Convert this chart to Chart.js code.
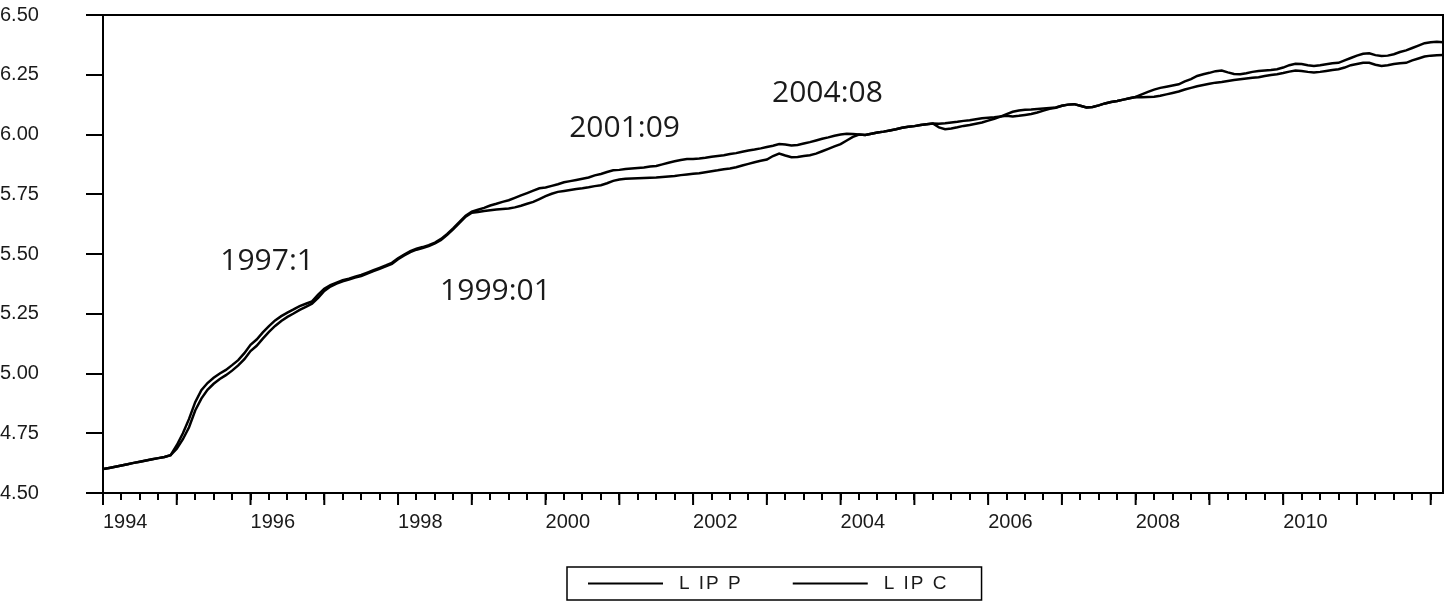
<!DOCTYPE html>
<html>
<head>
<meta charset="utf-8">
<script src="https://cdn.jsdelivr.net/npm/chart.js@4.4.1/dist/chart.umd.min.js"></script>
<style>
  html, body { margin: 0; padding: 0; background: #fff; }
  #wrap { width: 1446px; height: 604px; }
</style>
</head>
<body>
<div id="wrap"><canvas id="grafico" width="1446" height="604"></canvas></div>
<script>
// monthly series, 1994:01 .. 2012:03
const startYear = 1994;
const yearLabels = [1994, 1996, 1998, 2000, 2002, 2004, 2006, 2008, 2010];
const seriesNames = ['L IP P', 'L IP C'];

const lipP = [
  4.600, 4.605, 4.610, 4.615, 4.620, 4.626, 4.631, 4.636, 4.641, 4.646, 4.651, 4.658,
  4.700, 4.750, 4.810, 4.880, 4.930, 4.960, 4.982, 5.000, 5.015, 5.035, 5.056, 5.085,
  5.120, 5.142, 5.172, 5.198, 5.222, 5.240, 5.255, 5.268, 5.282, 5.292, 5.302, 5.330,
  5.355, 5.370, 5.380, 5.390, 5.397, 5.405, 5.412, 5.422, 5.432, 5.442, 5.452, 5.463,
  5.482, 5.498, 5.512, 5.522, 5.529, 5.537, 5.548, 5.563, 5.584, 5.608, 5.634, 5.660,
  5.677, 5.685, 5.693, 5.703, 5.710, 5.718, 5.725, 5.735, 5.745, 5.755, 5.765, 5.775,
  5.778, 5.785, 5.792, 5.800, 5.805, 5.810, 5.815, 5.820, 5.829, 5.835, 5.843, 5.850,
  5.852, 5.856, 5.858, 5.860, 5.862, 5.866, 5.868, 5.875, 5.882, 5.888, 5.893, 5.897,
  5.898, 5.900, 5.903, 5.907, 5.910, 5.913, 5.918, 5.922, 5.928, 5.933, 5.937, 5.942,
  5.948, 5.953, 5.960, 5.958, 5.954, 5.956, 5.962, 5.968, 5.975, 5.982, 5.988, 5.995,
  6.000, 6.003, 6.002, 6.000, 5.998, 6.003, 6.008, 6.012, 6.017, 6.022, 6.028, 6.032,
  6.035, 6.040, 6.043, 6.046, 6.045, 6.047, 6.050, 6.053, 6.057, 6.060, 6.064, 6.068,
  6.070, 6.072, 6.075, 6.078, 6.075, 6.078, 6.082, 6.086, 6.092, 6.100, 6.108, 6.112,
  6.120, 6.125, 6.127, 6.120, 6.113, 6.115, 6.122, 6.130, 6.136, 6.140, 6.146, 6.152,
  6.157, 6.168, 6.178, 6.188, 6.195, 6.200, 6.205, 6.210, 6.222, 6.232, 6.245, 6.252,
  6.258, 6.265, 6.268, 6.260, 6.253, 6.252, 6.256, 6.262, 6.266, 6.268, 6.270, 6.273,
  6.280, 6.290, 6.296, 6.295, 6.290, 6.287, 6.290, 6.294, 6.298, 6.300, 6.310, 6.320,
  6.330, 6.338, 6.340, 6.332, 6.328, 6.330, 6.336, 6.345, 6.352, 6.362, 6.372, 6.382,
  6.386, 6.388, 6.386
];

const lipC = [
  4.600, 4.605, 4.610, 4.615, 4.620, 4.626, 4.631, 4.636, 4.641, 4.646, 4.651, 4.658,
  4.685, 4.725, 4.775, 4.845, 4.895, 4.932, 4.957, 4.977, 4.993, 5.012, 5.034, 5.060,
  5.094, 5.116, 5.146, 5.174, 5.199, 5.220, 5.237, 5.251, 5.266, 5.279, 5.292, 5.316,
  5.345, 5.364, 5.376, 5.386, 5.393, 5.401, 5.408, 5.418, 5.428, 5.438, 5.448, 5.459,
  5.478, 5.494, 5.508, 5.518, 5.525, 5.533, 5.544, 5.559, 5.580, 5.604, 5.630, 5.656,
  5.673, 5.676, 5.680, 5.683, 5.686, 5.688, 5.690, 5.695, 5.702, 5.710, 5.718, 5.730,
  5.742, 5.752, 5.760, 5.764, 5.768, 5.772, 5.775, 5.779, 5.784, 5.788, 5.796, 5.806,
  5.812, 5.815, 5.816, 5.817, 5.818, 5.819, 5.820, 5.822, 5.824, 5.826, 5.830, 5.833,
  5.836, 5.838, 5.842, 5.846, 5.850, 5.855, 5.858, 5.863, 5.870, 5.877, 5.884, 5.890,
  5.895, 5.910, 5.920, 5.912, 5.905, 5.906, 5.910, 5.913, 5.920, 5.930, 5.940, 5.950,
  5.960, 5.975, 5.990, 6.000, 5.998, 6.003, 6.008, 6.012, 6.017, 6.022, 6.028, 6.032,
  6.035, 6.040, 6.043, 6.046, 6.030, 6.022, 6.025, 6.030, 6.036, 6.040, 6.045, 6.050,
  6.058, 6.066, 6.075, 6.085, 6.095, 6.100, 6.104, 6.105, 6.107, 6.109, 6.111, 6.113,
  6.120, 6.125, 6.127, 6.120, 6.113, 6.115, 6.122, 6.130, 6.136, 6.140, 6.146, 6.152,
  6.157, 6.156, 6.157, 6.158, 6.162, 6.168, 6.174, 6.180, 6.188, 6.195, 6.202, 6.207,
  6.212, 6.217, 6.220, 6.224, 6.228, 6.231, 6.234, 6.237, 6.240, 6.245, 6.249, 6.252,
  6.257, 6.263, 6.268, 6.266, 6.262, 6.259, 6.262, 6.266, 6.270, 6.273, 6.280, 6.290,
  6.295, 6.300, 6.300, 6.292, 6.287, 6.290, 6.295, 6.298, 6.300, 6.310, 6.318, 6.326,
  6.330, 6.332, 6.333
];

// break-date notes (year, level)
const notes = [
  { text: '1997:1',  x: 1995.59, y: 5.469 },
  { text: '1999:01', x: 1998.57, y: 5.344 },
  { text: '2001:09', x: 2000.32, y: 6.027 },
  { text: '2004:08', x: 2003.07, y: 6.172 }
];

const axisFont = { family: '"Liberation Sans", Arial, sans-serif', size: 20 };
const toPoints = arr => arr.map((v, i) => ({ x: startYear + i / 12, y: v }));

const extras = {
    id: 'extras',
    afterDraw(chart) {
        const { ctx, chartArea: a, scales: { x, y } } = chart;
        ctx.save();
        ctx.strokeStyle = '#000';
        ctx.lineWidth = 2;
        ctx.beginPath();
        // top + right of the frame
        ctx.moveTo(a.left, a.top);
        ctx.lineTo(a.right, a.top);
        ctx.lineTo(a.right, a.bottom);
        // longer ticks on whole years
        for (let yr = Math.ceil(x.min); yr <= x.max; yr++) {
            const px = x.getPixelForValue(yr);
            ctx.moveTo(px, a.bottom);
            ctx.lineTo(px, a.bottom + 12);
        }
        ctx.stroke();

        // notes
        ctx.fillStyle = '#1a1a1a';
        ctx.font = '30px "Open Sans", sans-serif';
        ctx.textAlign = 'left';
        ctx.textBaseline = 'middle';
        notes.forEach(n => ctx.fillText(n.text, x.getPixelForValue(n.x), y.getPixelForValue(n.y)));

        // boxed legend under the axis
        ctx.font = '19px "Liberation Sans", Arial, sans-serif';
        ctx.letterSpacing = '2px';
        const widths = chart.data.datasets.map(d => ctx.measureText(d.label).width);
        const lineLen = 75, gapText = 16, gapItem = 50, padL = 21, padR = 33;
        const boxW = padL + widths.reduce((s, w) => s + lineLen + gapText + w, 0) + gapItem + padR;
        const boxL = Math.round((a.left + a.right) / 2 - boxW / 2) + 1;
        const boxT = a.bottom + 74;
        const midY = boxT + 16.5;
        ctx.lineWidth = 1.5;
        ctx.strokeRect(boxL, boxT, boxW, 33);
        let cx = boxL + padL;
        chart.data.datasets.forEach((d, i) => {
            ctx.lineWidth = 2;
            ctx.beginPath();
            ctx.moveTo(cx, midY);
            ctx.lineTo(cx + lineLen, midY);
            ctx.stroke();
            ctx.fillText(d.label, cx + lineLen + gapText, midY);
            cx += lineLen + gapText + widths[i] + gapItem;
        });
        ctx.restore();
    }
};

new Chart(document.getElementById('grafico'), {
    type: 'line',
    data: {
        datasets: [
            { label: seriesNames[0], data: toPoints(lipP), borderColor: '#000', borderWidth: 2.5, pointRadius: 0, tension: 0 },
            { label: seriesNames[1], data: toPoints(lipC), borderColor: '#000', borderWidth: 2.5, pointRadius: 0, tension: 0 }
        ]
    },
    options: {
        responsive: false,
        animation: false,
        devicePixelRatio: 1,
        layout: { padding: { top: 7, right: 3, bottom: 70, left: 0 } },
        plugins: { legend: { display: false }, tooltip: { enabled: false } },
        scales: {
            x: {
                type: 'linear',
                min: startYear,
                max: startYear + (lipP.length - 1) / 12,
                afterFit: s => { s.height = 41; },
                border: { color: '#000', width: 2 },
                grid: { drawOnChartArea: false, color: '#000', lineWidth: 2, tickLength: 7 },
                ticks: {
                    stepSize: 0.25,
                    includeBounds: false,
                    autoSkip: false,
                    maxRotation: 0,
                    align: 'start',
                    padding: 10,
                    color: '#1a1a1a',
                    font: axisFont,
                    callback: v => yearLabels.includes(v) ? String(v) : ''
                }
            },
            y: {
                min: 4.5,
                max: 6.5,
                afterFit: s => { s.width = 103; },
                border: { color: '#000', width: 2 },
                grid: { drawOnChartArea: false, color: '#000', lineWidth: 2, tickLength: 17 },
                ticks: {
                    stepSize: 0.25,
                    crossAlign: 'far',
                    color: '#1a1a1a',
                    font: axisFont,
                    callback: v => v.toFixed(2)
                }
            }
        }
    },
    plugins: [extras]
});
</script>
</body>
</html>
